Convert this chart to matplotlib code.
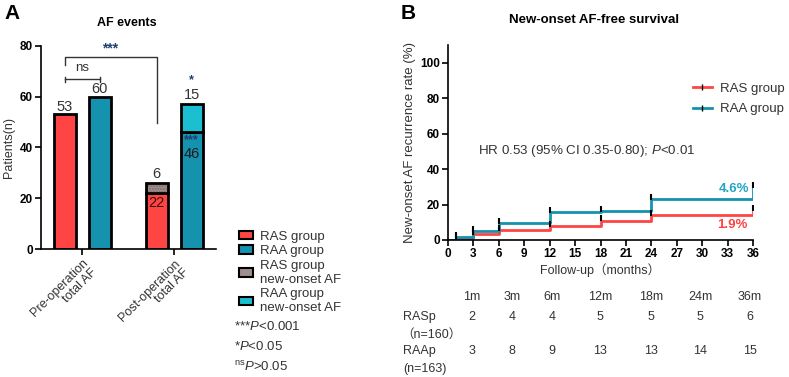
import numpy as np
import matplotlib.pyplot as plt
from matplotlib.patches import Patch
from matplotlib.lines import Line2D

plt.rcParams['font.family'] = ['Liberation Sans', 'Noto Sans CJK SC', 'DejaVu Sans']
plt.rcParams['mathtext.fontset'] = 'custom'
plt.rcParams['mathtext.it'] = 'Liberation Sans:italic'
plt.rcParams['mathtext.rm'] = 'Liberation Sans'

# ---- Panel A data ----
groups = ['Pre-operation\ntotal AF', 'Post-operation\ntotal AF']
ras_total = [53, 22]
raa_total = [60, 46]
# new-onset segments as drawn on top of post-operation bars
ras_new_drawn = 4
raa_new_drawn = 11
ras_new_label = 6
raa_new_label = 15

# ---- Panel B data ----
times = [0, 1, 3, 6, 12, 18, 24, 36]
ras_rate = [0, 1.3, 3.4, 5.5, 8.0, 11.0, 13.9, 16.8]
raa_rate = [0, 1.9, 5.1, 9.5, 15.6, 16.2, 23.2, 30.0]
risk_cols = ['1m', '3m', '6m', '12m', '18m', '24m', '36m']
ras_risk = [2, 4, 4, 5, 5, 5, 6]
raa_risk = [3, 8, 9, 13, 13, 14, 15]

red = '#FF4444'
blue = '#1592AE'
cyan = '#1BBFD0'
grey = '#A08E8E'
star_col = '#1F3F70'
txt = '#333333'

fig = plt.figure(figsize=(7.89, 3.77), dpi=100)

# ================= Panel A =================
axA = fig.add_axes([0.052, 0.3395, 0.222, 0.539])
x = np.arange(len(groups))
off, w = 0.19, 0.24
kw = dict(width=w, edgecolor='black', linewidth=2)
axA.bar(x - off, ras_total, color=red, **kw)
axA.bar(x + off, raa_total, color=blue, **kw)
# new-onset stacked segments (dotted texture)
axA.bar(x[1] - off, ras_new_drawn, bottom=ras_total[1], color=grey, width=w,
        hatch='......', edgecolor='#7d6c6c', linewidth=0)
axA.bar(x[1] - off, ras_new_drawn, bottom=ras_total[1], fill=False, width=w,
        edgecolor='black', linewidth=2)
axA.bar(x[1] + off, raa_new_drawn, bottom=raa_total[1], color=cyan, width=w,
        edgecolor='black', linewidth=2)

lab = dict(ha='center', fontsize=10.5, color=txt)
axA.text(x[0] - off, ras_total[0] + 0.3, str(ras_total[0]), va='bottom', **lab)
axA.text(x[0] + off, raa_total[0] + 0.3, str(raa_total[0]), va='bottom', **lab)
axA.text(x[1] - off, ras_total[1] + ras_new_drawn + 0.6, str(ras_new_label), va='bottom', **lab)
axA.text(x[1] - off, ras_total[1] - 4, str(ras_total[1]), va='center', ha='center',
         fontsize=10.5, color='#3a1010')
axA.text(x[1] + off, raa_total[1] + raa_new_drawn + 1.0, str(raa_new_label), va='bottom', **lab)
axA.text(x[1] + off, raa_total[1] - 8.5, str(raa_total[1]), va='center', ha='center',
         fontsize=10.5, color='#1a1a1a')
axA.text(x[1] + off, raa_total[1] - 3.2, '***', va='center', ha='center',
         fontsize=9, color=star_col, fontweight='bold')
axA.text(x[1] + off, 66.5, '*', va='center', ha='center', fontsize=9,
         color=star_col, fontweight='bold')

# ns bracket
axA.plot([x[0] - off, x[0] + off], [66.8, 66.8], color=txt, lw=1)
for xx in (x[0] - off, x[0] + off):
    axA.plot([xx, xx], [65.8, 67.8], color=txt, lw=1)
axA.text(x[0], 69, 'ns', ha='center', va='bottom', fontsize=9.5, color=txt)
# *** bracket
axA.plot([x[0] - off, x[0] - off, x[1] - off, x[1] - off],
         [72.4, 75.7, 75.7, 49.6], color=txt, lw=1)
axA.text(0.30, 79, '***', ha='center', va='center', fontsize=10,
         color=star_col, fontweight='bold')

axA.set_xlim(-0.446, 1.457)
axA.set_ylim(0, 80)
axA.set_yticks([0, 20, 40, 60, 80])
axA.set_xticks(x)
axA.set_xticklabels(groups, rotation=45, ha='right', rotation_mode='anchor',
                    fontsize=9, color=txt, linespacing=1.1)
for lbl in axA.get_yticklabels():
    lbl.set_fontweight('bold')
    lbl.set_fontsize(8.5)
axA.set_ylabel('Patients(n)', fontsize=9, color=txt, labelpad=3)
axA.spines['top'].set_visible(False)
axA.spines['right'].set_visible(False)
for s in ('left', 'bottom'):
    axA.spines[s].set_linewidth(1.2)
axA.tick_params(width=1.2, length=4, pad=2)
axA.set_title('AF events', fontsize=9, fontweight='bold', pad=14, x=0.49)

fig.text(0.006, 0.965, 'A', fontsize=15, fontweight='bold', va='center')

handlesA = [Patch(facecolor=red, edgecolor='black', lw=1.5),
            Patch(facecolor=blue, edgecolor='black', lw=1.5),
            Patch(facecolor=grey, edgecolor='black', lw=1.5),
            Patch(facecolor=cyan, edgecolor='black', lw=1.5)]
fig.legend(handlesA, ['RAS group', 'RAA group', 'RAS group\nnew-onset AF',
                      'RAA group\nnew-onset AF'],
           loc='upper left', bbox_to_anchor=(0.294, 1 - 224 / 377), frameon=False,
           fontsize=9.5, handlelength=1.1, handleheight=0.6, handletextpad=0.5,
           labelspacing=0.2, borderpad=0, labelcolor=txt)
fig.text(0.296, 1 - 327 / 377, r'***$\mathit{P}$<0.001', fontsize=9.5, va='center', color=txt)
fig.text(0.296, 1 - 347 / 377, r'*$\mathit{P}$<0.05', fontsize=9.5, va='center', color=txt)
fig.text(0.296, 1 - 367 / 377, r'$^{\mathrm{ns}}\mathit{P}$>0.05', fontsize=9.5, va='center', color=txt)

# ================= Panel B =================
axB = fig.add_axes([0.5678, 0.3634, 0.3866, 0.517])
axB.plot(times, ras_rate, drawstyle='steps-post', color=red, lw=2)
axB.plot(times, raa_rate, drawstyle='steps-post', color=blue, lw=2)
axB.plot(times[1:], np.array(ras_rate[1:]) + 1.2, ls='none', marker='|',
         color='black', ms=5, mew=1.5)
axB.plot(times[1:], np.array(raa_rate[1:]) + 1.2, ls='none', marker='|',
         color='black', ms=5, mew=1.5)

axB.text(3.6, 50.5, r'HR 0.53 (95% CI 0.35-0.80); $\mathit{P}$<0.01', fontsize=9.6,
         va='center', color=txt)
axB.text(35.6, 29, '4.6%', color='#22A5C6', fontsize=9.5, ha='right', va='center',
         fontweight='bold')
axB.text(35.3, 8.3, '1.9%', color=red, fontsize=9.5, ha='right', va='center',
         fontweight='bold')

axB.set_xlim(0, 36)
axB.set_ylim(0, 110)
axB.set_xticks(np.arange(0, 37, 3))
axB.set_yticks([0, 20, 40, 60, 80, 100])
for lbl in axB.get_xticklabels() + axB.get_yticklabels():
    lbl.set_fontweight('bold')
    lbl.set_fontsize(8.5)
axB.spines['top'].set_visible(False)
axB.spines['right'].set_visible(False)
for s in ('left', 'bottom'):
    axB.spines[s].set_linewidth(1.2)
axB.tick_params(width=1.2, length=4, pad=2)
axB.set_xlabel('Follow-up（months）', fontsize=9, color=txt, labelpad=2)
axB.set_ylabel('New-onset AF recurrence rate (%)', fontsize=9.5, color=txt, labelpad=3)
axB.set_title('New-onset AF-free survival', fontsize=9.5, fontweight='bold', pad=16, x=0.48)

handlesB = [Line2D([0], [0], color=red, lw=2, marker='|', mec='black', ms=4),
            Line2D([0], [0], color=blue, lw=2, marker='|', mec='black', ms=4)]
axB.legend(handlesB, ['RAS group', 'RAA group'], loc='upper left',
           bbox_to_anchor=(0.78, 0.84), frameon=False, fontsize=9.5,
           handlelength=1.5, handletextpad=0.6, labelspacing=0.6, borderpad=0,
           labelcolor=txt)

fig.text(0.508, 0.965, 'B', fontsize=15, fontweight='bold', va='center')

# number-at-risk table
col_x = [472, 512, 552, 600, 651, 700, 750]
for cx, c, a, b in zip(col_x, risk_cols, ras_risk, raa_risk):
    fig.text(cx / 789, 1 - 297 / 377, c, ha='center', va='center', fontsize=9, color=txt)
    fig.text(cx / 789, 1 - 317 / 377, str(a), ha='center', va='center', fontsize=9, color=txt)
    fig.text(cx / 789, 1 - 351 / 377, str(b), ha='center', va='center', fontsize=9, color=txt)
fig.text(403 / 789, 1 - 317 / 377, 'RASp', va='center', fontsize=9, color=txt)
fig.text(401 / 789, 1 - 335 / 377, '（n=160）', va='center', fontsize=9, color=txt)
fig.text(403 / 789, 1 - 351 / 377, 'RAAp', va='center', fontsize=9, color=txt)
fig.text(403 / 789, 1 - 369 / 377, '(n=163)', va='center', fontsize=9, color=txt)

fig.savefig('out.png', dpi=100)
